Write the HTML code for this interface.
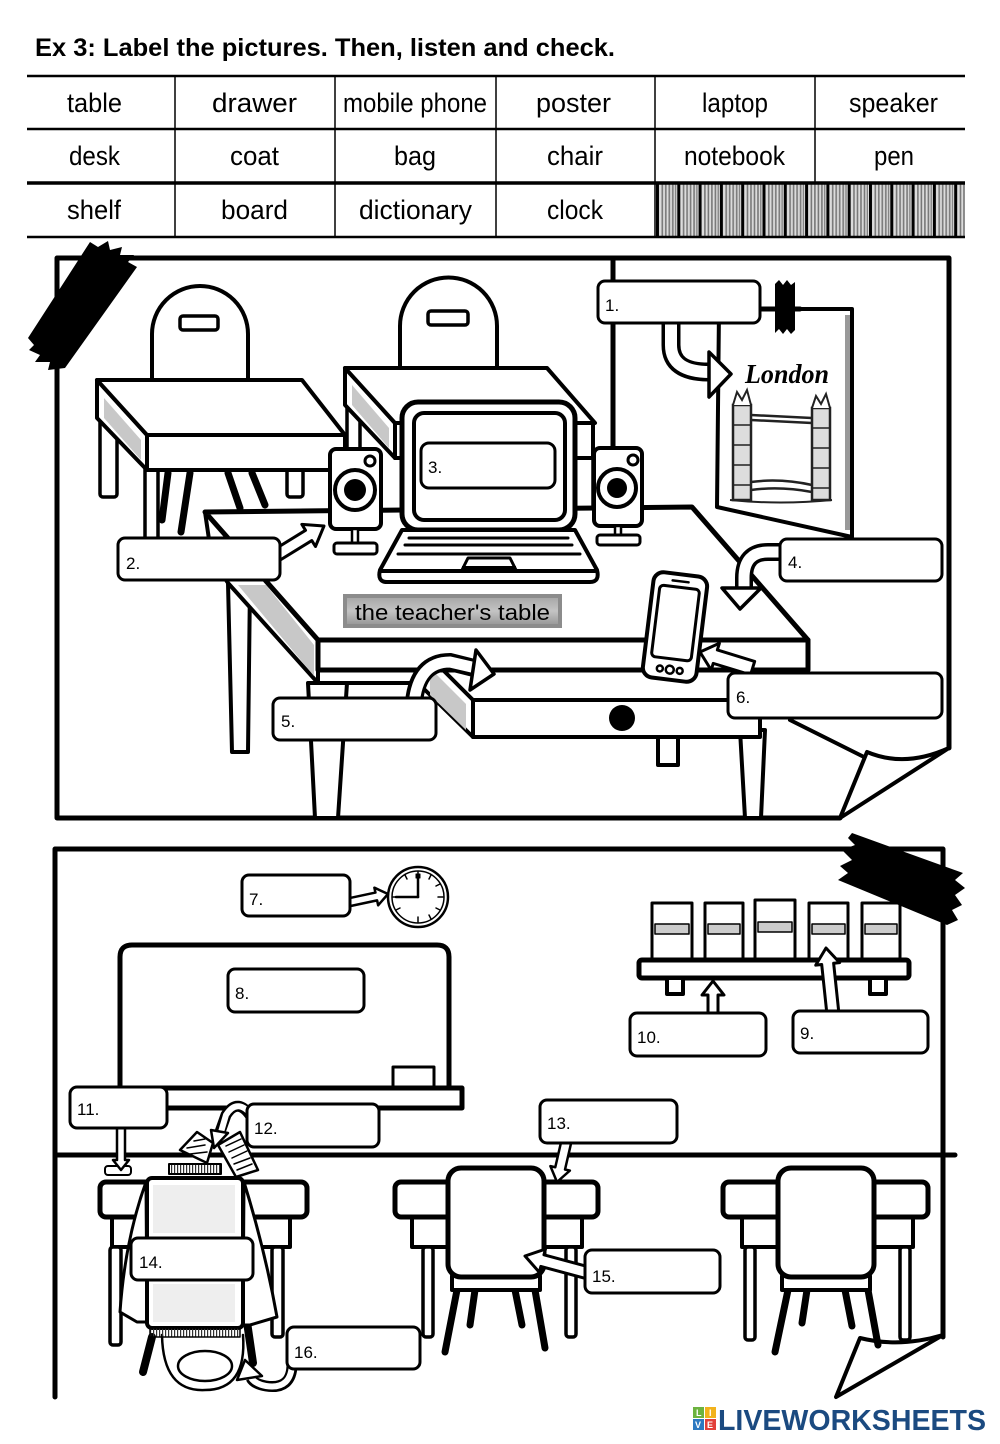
<!DOCTYPE html>
<html><head><meta charset="utf-8">
<style>
html,body{margin:0;padding:0;background:#fff;}
svg{display:block;}
text{font-family:"Liberation Sans",sans-serif;fill:#000;}
</style></head><body>
<svg width="1000" height="1444" viewBox="0 0 1000 1444" xmlns="http://www.w3.org/2000/svg">
<defs>
<pattern id="hatch" x="656" y="0" width="21.3" height="10" patternUnits="userSpaceOnUse">
<rect x="0" y="0" width="21.3" height="10" fill="#dcdcdc"/>
<rect x="0" y="0" width="3" height="10" fill="#000"/>
<rect x="5.5" y="0" width="1.6" height="10" fill="#777"/>
<rect x="9" y="0" width="1.6" height="10" fill="#777"/>
<rect x="12.5" y="0" width="1.6" height="10" fill="#777"/>
<rect x="16" y="0" width="1.6" height="10" fill="#777"/>
<rect x="19" y="0" width="1.2" height="10" fill="#777"/>
</pattern>
<pattern id="hatch2" width="3" height="10" patternUnits="userSpaceOnUse"><rect x="0" y="0" width="1.2" height="10" fill="#333"/></pattern>
<linearGradient id="gl" x1="0" y1="0" x2="0" y2="1"><stop offset="0" stop-color="#a8a8a8"/><stop offset="0.5" stop-color="#c4c4c4"/><stop offset="1" stop-color="#9a9a9a"/></linearGradient>
</defs>

<!-- Title -->
<text x="35" y="56" font-size="25" font-weight="bold" textLength="580" lengthAdjust="spacingAndGlyphs">Ex 3: Label the pictures. Then, listen and check.</text>

<!-- Table -->
<rect x="656" y="184" width="309" height="53" fill="url(#hatch)"/>
<g stroke="#000" fill="none">
<line x1="27" y1="76" x2="965" y2="76" stroke-width="2.5"/>
<line x1="27" y1="129" x2="965" y2="129" stroke-width="2.5"/>
<line x1="27" y1="183" x2="965" y2="183" stroke-width="3.5"/>
<line x1="27" y1="237" x2="965" y2="237" stroke-width="2.5"/>
<line x1="175" y1="76" x2="175" y2="237" stroke-width="1.5"/>
<line x1="335" y1="76" x2="335" y2="237" stroke-width="1.5"/>
<line x1="496" y1="76" x2="496" y2="237" stroke-width="1.5"/>
<line x1="655" y1="76" x2="655" y2="237" stroke-width="1.5"/>
<line x1="815" y1="76" x2="815" y2="183" stroke-width="1.5"/>
</g>
<g font-size="27">
<text x="67" y="112" textLength="55" lengthAdjust="spacingAndGlyphs">table</text>
<text x="212" y="112" textLength="85" lengthAdjust="spacingAndGlyphs">drawer</text>
<text x="343" y="112" textLength="144" lengthAdjust="spacingAndGlyphs">mobile phone</text>
<text x="536" y="112" textLength="75" lengthAdjust="spacingAndGlyphs">poster</text>
<text x="702" y="112" textLength="66" lengthAdjust="spacingAndGlyphs">laptop</text>
<text x="849" y="112" textLength="89" lengthAdjust="spacingAndGlyphs">speaker</text>
<text x="69" y="165" textLength="51" lengthAdjust="spacingAndGlyphs">desk</text>
<text x="230" y="165" textLength="49" lengthAdjust="spacingAndGlyphs">coat</text>
<text x="394" y="165" textLength="42" lengthAdjust="spacingAndGlyphs">bag</text>
<text x="547" y="165" textLength="56" lengthAdjust="spacingAndGlyphs">chair</text>
<text x="684" y="165" textLength="101" lengthAdjust="spacingAndGlyphs">notebook</text>
<text x="874" y="165" textLength="40" lengthAdjust="spacingAndGlyphs">pen</text>
<text x="67" y="219" textLength="54" lengthAdjust="spacingAndGlyphs">shelf</text>
<text x="221" y="219" textLength="67" lengthAdjust="spacingAndGlyphs">board</text>
<text x="359" y="219" textLength="113" lengthAdjust="spacingAndGlyphs">dictionary</text>
<text x="547" y="219" textLength="56" lengthAdjust="spacingAndGlyphs">clock</text>
</g>

<!-- ================= TOP PICTURE ================= -->
<g stroke="#000" stroke-linejoin="round" stroke-linecap="round">
<path d="M57,258 H949 V748 M57,258 V818 H840" fill="none" stroke-width="5"/>
<line x1="613" y1="258" x2="613" y2="450" stroke-width="5"/>

<!-- chair backs -->
<path d="M152,382 V334 A48,48 0 0 1 248,334 V382" fill="#fff" stroke-width="4"/>
<rect x="180" y="316" width="38" height="14" rx="3" fill="#fff" stroke-width="3.5"/>
<path d="M400,372 V326 A48.5,48.5 0 0 1 497,326 V372" fill="#fff" stroke-width="4"/>
<rect x="428" y="311" width="40" height="14" rx="3" fill="#fff" stroke-width="3.5"/>

<!-- desk 1 -->
<rect x="100" y="412" width="17" height="85" rx="3" fill="#fff" stroke-width="3.5"/>
<rect x="287" y="465" width="16" height="32" rx="3" fill="#fff" stroke-width="3.5"/>
<rect x="145" y="465" width="13" height="80" fill="#fff" stroke-width="3.5"/>
<line x1="168" y1="473" x2="162" y2="520" stroke-width="7"/>
<line x1="190" y1="473" x2="181" y2="532" stroke-width="7"/>
<line x1="228" y1="473" x2="240" y2="508" stroke-width="7"/>
<line x1="252" y1="473" x2="265" y2="505" stroke-width="7"/>
<polygon points="97,380 147,435 147,470 97,418" fill="#fff" stroke-width="4"/>
<polygon points="104,398 141,440 141,460 104,418" fill="#c8c8c8" stroke="none"/>
<polygon points="97,380 302,380 345,435 147,435" fill="#fff" stroke-width="4"/>
<rect x="147" y="435" width="198" height="35" fill="#fff" stroke-width="4"/>

<!-- desk 2 -->
<rect x="347" y="405" width="13" height="60" fill="#fff" stroke-width="3.5"/>
<rect x="575" y="423" width="18" height="90" fill="#fff" stroke-width="3.5"/>
<polygon points="345,368 395,423 395,458 345,405" fill="#fff" stroke-width="4"/>
<polygon points="352,385 389,428 389,448 352,405" fill="#c8c8c8" stroke="none"/>
<polygon points="345,368 547,368 595,423 395,423" fill="#fff" stroke-width="4"/>
<rect x="395" y="423" width="198" height="35" fill="#fff" stroke-width="4"/>

<!-- poster -->
<polygon points="719,309 852,309 852,537 717,507" fill="#fff" stroke-width="4"/>
<rect x="845" y="315" width="5" height="215" fill="#999" stroke="none"/>
<line x1="760" y1="309" x2="800" y2="309" stroke-width="5"/>
</g>
<text x="745" y="383" font-style="italic" font-weight="bold" font-size="27" textLength="84" lengthAdjust="spacingAndGlyphs" style="font-family:'Liberation Serif',serif">London</text>
<!-- tower bridge -->
<g stroke="#222" fill="#fff">
<rect x="733" y="405" width="18" height="95" stroke-width="2.5" fill="#ddd"/>
<rect x="812" y="408" width="18" height="92" stroke-width="2.5" fill="#ddd"/>
<path d="M733,405 L737,392 L742,400 L747,390 L751,405" stroke-width="2" fill="#fff"/>
<path d="M812,408 L816,396 L821,404 L826,394 L830,408" stroke-width="2" fill="#fff"/>
<g stroke-width="1.5">
<line x1="733" y1="425" x2="751" y2="425"/><line x1="733" y1="445" x2="751" y2="445"/><line x1="733" y1="465" x2="751" y2="465"/><line x1="733" y1="485" x2="751" y2="485"/>
<line x1="812" y1="428" x2="830" y2="428"/><line x1="812" y1="448" x2="830" y2="448"/><line x1="812" y1="468" x2="830" y2="468"/><line x1="812" y1="488" x2="830" y2="488"/>
</g>
<path d="M751,415 L812,418 M751,420 L812,423" stroke-width="2.5" fill="none"/>
<path d="M751,482 Q780,478 812,485 M751,490 Q780,486 812,492" stroke-width="2.5" fill="none"/>
<path d="M730,500 Q780,505 832,500" stroke-width="2" fill="none"/>
</g>
<!-- arrow 1 curved -->
<path d="M671,320 V345 Q671,372 708,372" fill="none" stroke="#000" stroke-width="19"/>
<path d="M671,318 V345 Q671,372 710,372" fill="none" stroke="#fff" stroke-width="12"/>
<polygon points="709,352 731,374 709,397" fill="#fff" stroke="#000" stroke-width="3.5" stroke-linejoin="round"/>
<!-- tape on poster -->
<polygon points="775,284 779,280 783,285 787,280 791,285 795,282 795,330 791,334 787,329 783,334 779,329 775,333" fill="#000"/>

<!-- teacher's table -->
<g stroke="#000" stroke-linejoin="round" stroke-linecap="round">
<polygon points="228,583 250,583 248,752 232,752" fill="#fff" stroke-width="4"/>
<polygon points="740,730 765,730 761,818 745,818" fill="#fff" stroke-width="4"/>
<rect x="658" y="730" width="20" height="35" fill="#fff" stroke-width="4"/>
<polygon points="423,650 473,700 473,737 423,688" fill="#fff" stroke-width="4"/>
<polygon points="430,668 466,704 466,730 430,695" fill="#c8c8c8" stroke="none"/>
<rect x="473" y="700" width="287" height="37" fill="#fff" stroke-width="4"/>
<circle cx="622" cy="718" r="13" fill="#000" stroke="none"/>
<polygon points="205,512 318,640 318,683 228,583 212,560" fill="#fff" stroke-width="4"/>
<polygon points="238,585 266,585 314,645 314,676" fill="#c8c8c8" stroke="none"/>
<polygon points="308,683 347,683 338,818 315,818" fill="#fff" stroke-width="4"/>
<polygon points="205,512 692,507 808,640 318,640" fill="#fff" stroke-width="5"/>
<rect x="318" y="640" width="490" height="30" fill="#fff" stroke-width="5"/>
<line x1="318" y1="670" x2="318" y2="683" stroke-width="4"/>
<line x1="318" y1="683" x2="423" y2="683" stroke-width="4"/>
<line x1="790" y1="720" x2="866" y2="758" stroke-width="4"/>
<path d="M840,818 L867,752 Q905,768 949,748 Z" fill="#fff" stroke-width="4"/>

<!-- laptop -->
<rect x="402" y="402" width="173" height="128" rx="16" fill="#fff" stroke-width="5"/>
<rect x="414" y="413" width="151" height="107" rx="10" fill="#fff" stroke-width="4"/>
<path d="M402,530 L575,530 L597,570 Q600,582 590,582 L387,582 Q377,582 380,570 Z" fill="#fff" stroke-width="4"/>
<line x1="409" y1="538" x2="568" y2="538" stroke-width="3"/>
<line x1="405" y1="545" x2="572" y2="545" stroke-width="3"/>
<line x1="398" y1="554" x2="580" y2="554" stroke-width="3"/>
<line x1="382" y1="571" x2="595" y2="571" stroke-width="4"/>
<polygon points="468,558 510,558 516,570 462,570" fill="#fff" stroke-width="3"/>
<rect x="462" y="566" width="54" height="5" fill="#000" stroke="none"/>

<!-- speakers -->
<rect x="330" y="449" width="51" height="80" rx="6" fill="#fff" stroke-width="4"/>
<circle cx="355" cy="490" r="20" fill="#fff" stroke-width="4"/>
<circle cx="355" cy="490" r="11" fill="#000" stroke="none"/>
<circle cx="370" cy="461" r="5" fill="#fff" stroke-width="3"/>
<rect x="352" y="529" width="6" height="15" fill="#fff" stroke-width="2.5"/>
<rect x="334" y="543" width="43" height="11" rx="3" fill="#fff" stroke-width="3"/>
<rect x="594" y="448" width="48" height="78" rx="6" fill="#fff" stroke-width="4"/>
<circle cx="617" cy="488" r="19" fill="#fff" stroke-width="4"/>
<circle cx="617" cy="488" r="10" fill="#000" stroke="none"/>
<circle cx="633" cy="460" r="5" fill="#fff" stroke-width="3"/>
<rect x="615" y="526" width="6" height="11" fill="#fff" stroke-width="2.5"/>
<rect x="597" y="535" width="43" height="10" rx="3" fill="#fff" stroke-width="3"/>

<!-- phone -->
<g transform="translate(675,627) rotate(7)">
<rect x="-27" y="-53" width="54" height="106" rx="10" fill="#fff" stroke-width="4"/>
<rect x="-20" y="-40" width="40" height="72" rx="4" fill="#fff" stroke-width="3"/>
<line x1="-8" y1="-46" x2="8" y2="-46" stroke-width="2.5"/>
<circle cx="-10" cy="43" r="3" fill="#fff" stroke-width="2.5"/>
<circle cx="0" cy="43" r="4" fill="#fff" stroke-width="2.5"/>
<circle cx="10" cy="43" r="3" fill="#fff" stroke-width="2.5"/>
</g>

<!-- straight arrows top -->
<polygon transform="translate(324,526) rotate(-31.6)" points="-62,-6 -18,-6 -18,-13 0,0 -18,13 -18,6 -62,6" fill="#fff" stroke-width="3"/>
<polygon transform="translate(700,652) rotate(197)" points="-55,-7 -16,-7 -16,-14 0,0 -16,14 -16,7 -55,7" fill="#fff" stroke-width="3"/>
</g>

<!-- arrow 4 curved -->
<path d="M784,552 H768 Q744,552 744,578 V590" fill="none" stroke="#000" stroke-width="18"/>
<path d="M786,552 H768 Q744,552 744,578 V592" fill="none" stroke="#fff" stroke-width="11"/>
<polygon points="722,588 761,588 740,609" fill="#fff" stroke="#000" stroke-width="3.5" stroke-linejoin="round"/>
<!-- arrow 5 curved -->
<path d="M414,702 Q418,662 450,662 L474,668" fill="none" stroke="#000" stroke-width="18"/>
<path d="M414,704 Q418,662 450,662 L476,668" fill="none" stroke="#fff" stroke-width="11"/>
<polygon points="476,650 494,674 470,690" fill="#fff" stroke="#000" stroke-width="3.5" stroke-linejoin="round"/>

<!-- teacher's table label -->
<rect x="343" y="594" width="219" height="34" fill="#8c8c8c"/>
<rect x="347" y="598" width="211" height="26" fill="url(#gl)"/>
<text x="355" y="620" font-size="22" textLength="195" lengthAdjust="spacingAndGlyphs">the teacher's table</text>

<!-- TL tape -->
<polygon points="28,338 34,345 29,350 40,355 35,362 50,362 48,370 65,368 137,267 128,262 134,255 120,255 122,247 110,250 108,241 98,247 90,242" fill="#000"/>

<!-- label boxes top -->
<g fill="#fff" stroke="#000" stroke-width="3">
<rect x="598" y="281" width="162" height="42" rx="7"/>
<rect x="118" y="538" width="162" height="42" rx="7"/>
<rect x="421" y="443" width="134" height="45" rx="8"/>
<rect x="780" y="539" width="162" height="42" rx="7"/>
<rect x="273" y="698" width="163" height="42" rx="7"/>
<rect x="728" y="673" width="214" height="45" rx="7"/>
</g>
<g font-size="17">
<text x="605" y="311">1.</text>
<text x="126" y="569">2.</text>
<text x="428" y="473">3.</text>
<text x="788" y="568">4.</text>
<text x="281" y="727">5.</text>
<text x="736" y="703">6.</text>
</g>

<!-- ================= BOTTOM PICTURE ================= -->
<g stroke="#000" stroke-linejoin="round" stroke-linecap="round">
<path d="M55,849 H943 V1337 M55,849 V1397" fill="none" stroke-width="5"/>
<line x1="55" y1="1155" x2="955" y2="1155" stroke-width="5"/>
<path d="M836,1397 L860,1338 Q900,1348 943,1335 Z" fill="#fff" stroke-width="4"/>

<!-- clock -->
<circle cx="418" cy="897" r="30" fill="#fff" stroke-width="2.5"/>
<circle cx="418" cy="897" r="26" fill="#fff" stroke-width="1.5"/>
<g stroke-width="1.5">
<line x1="418" y1="872" x2="418" y2="877"/><line x1="418" y1="917" x2="418" y2="922"/>
<line x1="393" y1="897" x2="398" y2="897"/><line x1="438" y1="897" x2="443" y2="897"/>
<line x1="431" y1="875" x2="429" y2="879"/><line x1="440" y1="884" x2="436" y2="886"/>
<line x1="405" y1="875" x2="407" y2="879"/><line x1="396" y1="910" x2="400" y2="908"/>
<line x1="431" y1="919" x2="429" y2="915"/><line x1="440" y1="910" x2="436" y2="908"/>
</g>
<line x1="418" y1="897" x2="418" y2="875" stroke-width="2.5"/>
<line x1="418" y1="897" x2="396" y2="897" stroke-width="2.5"/>
<rect x="416" y="874" width="4" height="4" fill="#000"/>

<!-- board -->
<path d="M120,1090 V957 Q120,945 132,945 H437 Q449,945 449,957 V1090" fill="#fff" stroke-width="5"/>
<rect x="393" y="1067" width="41" height="21" fill="#fff" stroke-width="3"/>
<rect x="120" y="1088" width="342" height="20" fill="#fff" stroke-width="5"/>

<!-- shelf -->
<g fill="#fff" stroke-width="3">
<rect x="652" y="903" width="40" height="58"/>
<rect x="705" y="903" width="38" height="58"/>
<rect x="755" y="900" width="40" height="61"/>
<rect x="809" y="903" width="39" height="58"/>
<rect x="862" y="903" width="38" height="58"/>
</g>
<g fill="#ccc" stroke-width="1.5">
<rect x="655" y="924" width="34" height="10"/>
<rect x="708" y="924" width="32" height="10"/>
<rect x="758" y="922" width="34" height="10"/>
<rect x="812" y="924" width="33" height="10"/>
<rect x="865" y="924" width="32" height="10"/>
</g>
<rect x="639" y="960" width="270" height="18" rx="3" fill="#fff" stroke-width="5"/>
<rect x="667" y="978" width="16" height="16" fill="#fff" stroke-width="4"/>
<rect x="870" y="978" width="16" height="16" fill="#fff" stroke-width="4"/>

<!-- desks bottom -->
<rect x="112" y="1217" width="178" height="30" fill="#fff" stroke-width="4"/>
<rect x="110" y="1247" width="11" height="98" rx="3" fill="#fff" stroke-width="3.5"/>
<rect x="272" y="1247" width="11" height="90" rx="3" fill="#fff" stroke-width="3.5"/>
<rect x="100" y="1182" width="207" height="35" rx="6" fill="#fff" stroke-width="5"/>

<rect x="412" y="1217" width="170" height="30" fill="#fff" stroke-width="4"/>
<rect x="423" y="1247" width="10" height="90" rx="3" fill="#fff" stroke-width="3.5"/>
<rect x="566" y="1247" width="10" height="90" rx="3" fill="#fff" stroke-width="3.5"/>
<rect x="395" y="1182" width="203" height="35" rx="6" fill="#fff" stroke-width="5"/>

<rect x="742" y="1217" width="171" height="30" fill="#fff" stroke-width="4"/>
<rect x="745" y="1247" width="10" height="93" rx="3" fill="#fff" stroke-width="3.5"/>
<rect x="900" y="1247" width="10" height="93" rx="3" fill="#fff" stroke-width="3.5"/>
<rect x="723" y="1182" width="205" height="35" rx="6" fill="#fff" stroke-width="5"/>

<!-- chair B -->
<g stroke-width="7">
<line x1="457" y1="1290" x2="445" y2="1352"/>
<line x1="475" y1="1290" x2="470" y2="1325"/>
<line x1="515" y1="1290" x2="522" y2="1325"/>
<line x1="535" y1="1290" x2="545" y2="1348"/>
</g>
<rect x="452" y="1276" width="88" height="14" fill="#fff" stroke-width="4"/>
<rect x="448" y="1168" width="96" height="109" rx="13" fill="#fff" stroke-width="5"/>
<!-- chair C -->
<g stroke-width="7">
<line x1="788" y1="1290" x2="775" y2="1352"/>
<line x1="807" y1="1290" x2="802" y2="1323"/>
<line x1="845" y1="1290" x2="852" y2="1326"/>
<line x1="868" y1="1290" x2="878" y2="1345"/>
</g>
<rect x="782" y="1276" width="88" height="14" fill="#fff" stroke-width="4"/>
<rect x="778" y="1168" width="96" height="109" rx="13" fill="#fff" stroke-width="5"/>

<!-- chair A with coat & bag -->
<line x1="152" y1="1337" x2="143" y2="1372" stroke-width="8"/>
<line x1="247" y1="1322" x2="253" y2="1363" stroke-width="8"/>
<path d="M162,1335 Q163,1392 205,1390 Q247,1390 243,1335" fill="none" stroke-width="2.5"/>
<ellipse cx="205" cy="1366" rx="27" ry="15" fill="#fff" stroke-width="2.5"/>
<path d="M146,1182 Q125,1240 120,1312 L137,1322 L147,1322 Z" fill="#fff" stroke-width="3"/>
<path d="M244,1182 Q265,1250 277,1317 L250,1325 L243,1325 Z" fill="#fff" stroke-width="3"/>
<rect x="147" y="1178" width="96" height="150" rx="5" fill="#fff" stroke-width="4"/>
<rect x="153" y="1185" width="82" height="48" fill="#eee" stroke="none"/>
<rect x="153" y="1284" width="82" height="38" fill="#eee" stroke="none"/>
<rect x="150" y="1328" width="90" height="9" fill="url(#hatch2)" stroke-width="1.5"/>
<!-- pen, books -->
<rect x="105" y="1166" width="26" height="9" rx="3" fill="#fff" stroke-width="2"/>
<rect x="169" y="1164" width="52" height="10" fill="url(#hatch2)" stroke-width="2"/>
<polygon points="180,1150 197,1132 213,1143 207,1163" fill="#fff" stroke-width="2.5"/>
<polygon points="218,1145 240,1132 258,1170 236,1177" fill="#fff" stroke-width="2.5"/>
<g stroke-width="1.5">
<line x1="226" y1="1146" x2="241" y2="1139"/><line x1="229" y1="1152" x2="244" y2="1145"/><line x1="232" y1="1158" x2="247" y2="1151"/><line x1="234" y1="1164" x2="250" y2="1158"/><line x1="237" y1="1170" x2="252" y2="1164"/>
<line x1="187" y1="1148" x2="205" y2="1145"/><line x1="190" y1="1154" x2="207" y2="1152"/><line x1="194" y1="1141" x2="205" y2="1139"/>
</g>

<!-- straight arrows bottom -->
<polygon transform="translate(388,894) rotate(-12)" points="-42,-4 -12,-4 -12,-9 0,0 -12,9 -12,4 -42,4" fill="#fff" stroke-width="2.5"/>
<polygon transform="translate(826,948) rotate(-96)" points="-66,-6 -16,-6 -16,-12 0,0 -16,12 -16,6 -66,6" fill="#fff" stroke-width="3"/>
<polygon transform="translate(713,981) rotate(-90)" points="-34,-5 -14,-5 -14,-11 0,0 -14,11 -14,5 -34,5" fill="#fff" stroke-width="3"/>
<polygon transform="translate(121,1170) rotate(90)" points="-44,-4 -10,-4 -10,-8 0,0 -10,8 -10,4 -44,4" fill="#fff" stroke-width="2.5"/>
<polygon transform="translate(557,1182) rotate(103)" points="-42,-5 -14,-5 -14,-10 0,0 -14,10 -14,5 -42,5" fill="#fff" stroke-width="2.5"/>
<polygon transform="translate(525,1256) rotate(195)" points="-68,-6 -18,-6 -18,-12 0,0 -18,12 -18,6 -68,6" fill="#fff" stroke-width="3"/>
</g>

<!-- arrow 12 curved -->
<path d="M252,1118 Q238,1096 226,1115 L220,1132" fill="none" stroke="#000" stroke-width="11"/>
<path d="M254,1118 Q238,1096 226,1115 L221,1132" fill="none" stroke="#fff" stroke-width="6"/>
<polygon points="211,1130 228,1133 214,1148" fill="#fff" stroke="#000" stroke-width="2.5" stroke-linejoin="round"/>
<!-- arrow 16 curved -->
<path d="M292,1364 Q292,1390 266,1386 Q254,1384 251,1378" fill="none" stroke="#000" stroke-width="11"/>
<path d="M292,1362 Q292,1390 266,1386 Q254,1384 250,1376" fill="none" stroke="#fff" stroke-width="6"/>
<polygon points="237,1380 262,1376 245,1360" fill="#fff" stroke="#000" stroke-width="2.5" stroke-linejoin="round"/>

<!-- BR tape -->
<polygon points="852,833 963,873 955,880 965,888 955,895 962,905 952,910 958,920 947,925 838,880 848,873 840,866 852,860 842,850 855,845 848,838" fill="#000"/>

<!-- label boxes bottom -->
<g fill="#fff" stroke="#000" stroke-width="3">
<rect x="242" y="875" width="108" height="41" rx="7"/>
<rect x="228" y="969" width="136" height="43" rx="7"/>
<rect x="793" y="1011" width="135" height="42" rx="7"/>
<rect x="630" y="1013" width="136" height="43" rx="7"/>
<rect x="70" y="1087" width="97" height="41" rx="7"/>
<rect x="247" y="1104" width="132" height="43" rx="7"/>
<rect x="540" y="1100" width="137" height="43" rx="7"/>
<rect x="131" y="1238" width="122" height="42" rx="7"/>
<rect x="585" y="1250" width="135" height="43" rx="7"/>
<rect x="287" y="1327" width="133" height="42" rx="7"/>
</g>
<g font-size="17">
<text x="249" y="905">7.</text>
<text x="235" y="999">8.</text>
<text x="800" y="1039">9.</text>
<text x="637" y="1043">10.</text>
<text x="77" y="1115">11.</text>
<text x="254" y="1134">12.</text>
<text x="547" y="1129">13.</text>
<text x="139" y="1268">14.</text>
<text x="592" y="1282">15.</text>
<text x="294" y="1358">16.</text>
</g>

<!-- Logo -->
<g>
<rect x="693" y="1407" width="11" height="11" fill="#6cb33f"/>
<rect x="705" y="1407" width="11" height="11" fill="#f2b21c"/>
<rect x="693" y="1419" width="11" height="11" fill="#2c79c1"/>
<rect x="705" y="1419" width="11" height="11" fill="#e2403a"/>
<g font-size="9" font-weight="bold">
<text x="696" y="1416" style="fill:#fff">L</text><text x="709" y="1416" style="fill:#fff">I</text>
<text x="695" y="1428" style="fill:#fff">V</text><text x="707" y="1428" style="fill:#fff">E</text>
</g>
<text x="718" y="1430" font-size="29" font-weight="bold" textLength="268" lengthAdjust="spacingAndGlyphs" style="fill:#1b4a80">LIVEWORKSHEETS</text>
</g>
</svg>
</body></html>
